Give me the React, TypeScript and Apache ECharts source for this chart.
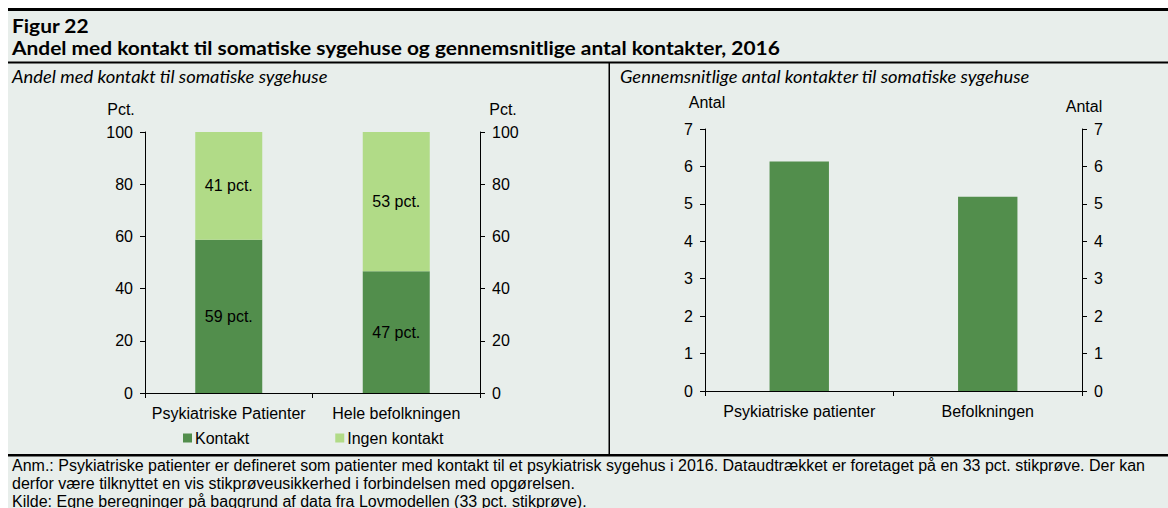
import React, { useEffect, useRef } from "react";
import * as echarts from "echarts";

const leftCategories = ["Psykiatriske Patienter", "Hele befolkningen"];
const kontakt = [58.7, 46.6];
const ingenKontakt = [41.3, 53.4];
const rightCategories = ["Psykiatriske patienter", "Befolkningen"];
const antal = [6.13, 5.19];
const seriesNames = ["Kontakt", "Ingen kontakt"];
const figureLabel = "Figur 22";
const mainTitle = "Andel med kontakt til somatiske sygehuse og gennemsnitlige antal kontakter, 2016";
const leftSubtitle = "Andel med kontakt til somatiske sygehuse";
const rightSubtitle = "Gennemsnitlige antal kontakter til somatiske sygehuse";
const leftUnit = "Pct.";
const rightUnit = "Antal";
const footerLines = [
  "Anm.: Psykiatriske patienter er defineret som patienter med kontakt til et psykiatrisk sygehus i 2016. Dataudtrækket er foretaget på en 33 pct. stikprøve. Der kan",
  "derfor være tilknyttet en vis stikprøveusikkerhed i forbindelsen med opgørelsen.",
  "Kilde: Egne beregninger på baggrund af data fra Lovmodellen (33 pct. stikprøve).",
];

const DARK = "#528E4C";
const LIGHT = "#B1DB87";
const BG = "#E8EEEB";
const SANS = "'Liberation Sans', Arial, sans-serif";
const NARROW = "'Liberation Sans Narrow', 'Liberation Sans', Arial, sans-serif";
const TITLE = "Lato, 'Open Sans', sans-serif";
const FS = 16;

function App() {
  const ref = useRef<HTMLDivElement>(null);
  useEffect(() => {
    if (!ref.current) return;
    const chart = echarts.init(ref.current, undefined, { renderer: "svg" });
    const axisLine = { show: true, lineStyle: { color: "#000", width: 1 } };
    const axisTick = { show: true, length: 5, lineStyle: { color: "#000", width: 1 } };
    const axisLabel = { fontSize: FS, color: "#000", fontFamily: SANS, margin: 12 };
    const yBase = (grid: number, pos: string, max: number, interval: number) => ({
      type: "value",
      gridIndex: grid,
      position: pos,
      min: 0,
      max,
      interval,
      axisLine,
      axisTick,
      splitLine: { show: false },
      axisLabel,
    });
    const xBase = (grid: number, data: string[]) => ({
      type: "category",
      gridIndex: grid,
      data,
      axisLine,
      axisTick: { ...axisTick, alignWithLabel: false },
      axisLabel: { ...axisLabel, margin: 12, interval: 0 },
    });
    const txt = (x: number, y: number, text: string, font: any, extra: any = {}) => ({
      type: "text",
      x,
      y,
      ...extra,
      style: { text, fill: "#000", verticalAlign: "middle", ...font },
    });
    const barLabel = {
      show: true,
      position: "inside",
      formatter: (p: any) => Math.round(p.value) + " pct.",
      fontSize: FS,
      color: "#000",
      fontFamily: SANS,
    };
    chart.setOption({
      animation: false,
      backgroundColor: "#fff",
      grid: [
        { left: 145, top: 132, width: 335, height: 261 },
        { left: 705, top: 129, width: 377, height: 262 },
      ],
      xAxis: [xBase(0, leftCategories), xBase(1, rightCategories)],
      yAxis: [
        yBase(0, "left", 100, 20),
        yBase(0, "right", 100, 20),
        yBase(1, "left", 7, 1),
        yBase(1, "right", 7, 1),
      ],
      legend: {
        data: seriesNames,
        left: 183,
        top: 430,
        padding: 0,
        itemWidth: 9,
        itemHeight: 9,
        itemGap: 86,
        icon: "rect",
        textStyle: { fontSize: FS, color: "#000", fontFamily: SANS, padding: [0, 0, 0, -2] },
      },
      series: [
        {
          name: seriesNames[0],
          type: "bar",
          stack: "andel",
          xAxisIndex: 0,
          yAxisIndex: 0,
          data: kontakt,
          barWidth: "40%",
          itemStyle: { color: DARK },
          label: barLabel,
        },
        {
          name: seriesNames[1],
          type: "bar",
          stack: "andel",
          xAxisIndex: 0,
          yAxisIndex: 0,
          data: ingenKontakt,
          barWidth: "40%",
          itemStyle: { color: LIGHT },
          label: barLabel,
        },
        {
          name: "Antal kontakter",
          type: "bar",
          xAxisIndex: 1,
          yAxisIndex: 2,
          data: antal,
          barWidth: "31.5%",
          itemStyle: { color: DARK },
        },
      ],
      graphic: [
        { type: "rect", z: -10, silent: true, shape: { x: 8, y: 8, width: 1160, height: 500 }, style: { fill: BG } },
        { type: "rect", shape: { x: 8, y: 8, width: 1160, height: 3 }, style: { fill: "#000" } },
        { type: "rect", shape: { x: 8, y: 61.5, width: 1160, height: 2 }, style: { fill: "#000" } },
        { type: "rect", shape: { x: 608.5, y: 62, width: 1.5, height: 393 }, style: { fill: "#000" } },
        { type: "rect", shape: { x: 8, y: 454, width: 1160, height: 2.5 }, style: { fill: "#000" } },
        txt(12, 25, figureLabel, { fontSize: 19, fontWeight: "bold", fontFamily: TITLE }, { scaleX: 1.1 }),
        txt(12, 47, mainTitle, { fontSize: 19, fontWeight: "bold", fontFamily: TITLE }, { scaleX: 1.1 }),
        txt(12, 77, leftSubtitle, { fontSize: 17, fontStyle: "italic", fontFamily: TITLE }, { scaleX: 1.08 }),
        txt(620, 77, rightSubtitle, { fontSize: 17, fontStyle: "italic", fontFamily: TITLE }, { scaleX: 1.08 }),
        txt(121, 109, leftUnit, { fontSize: FS, fontFamily: SANS, align: "center" }),
        txt(503, 109, leftUnit, { fontSize: FS, fontFamily: SANS, align: "center" }),
        txt(707, 102, rightUnit, { fontSize: FS, fontFamily: SANS, align: "center" }),
        txt(1084, 106, rightUnit, { fontSize: FS, fontFamily: SANS, align: "center" }),
        ...footerLines.map((line, i) =>
          txt(12, 465 + i * 18, line, { fontSize: 16, fontFamily: NARROW })
        ),
      ],
    });
    return () => chart.dispose();
  }, []);
  return (
    <div
      ref={ref}
      style={{ position: "absolute", left: 0, top: 0, width: 1168, height: 508 }}
    />
  );
}

export default App;
